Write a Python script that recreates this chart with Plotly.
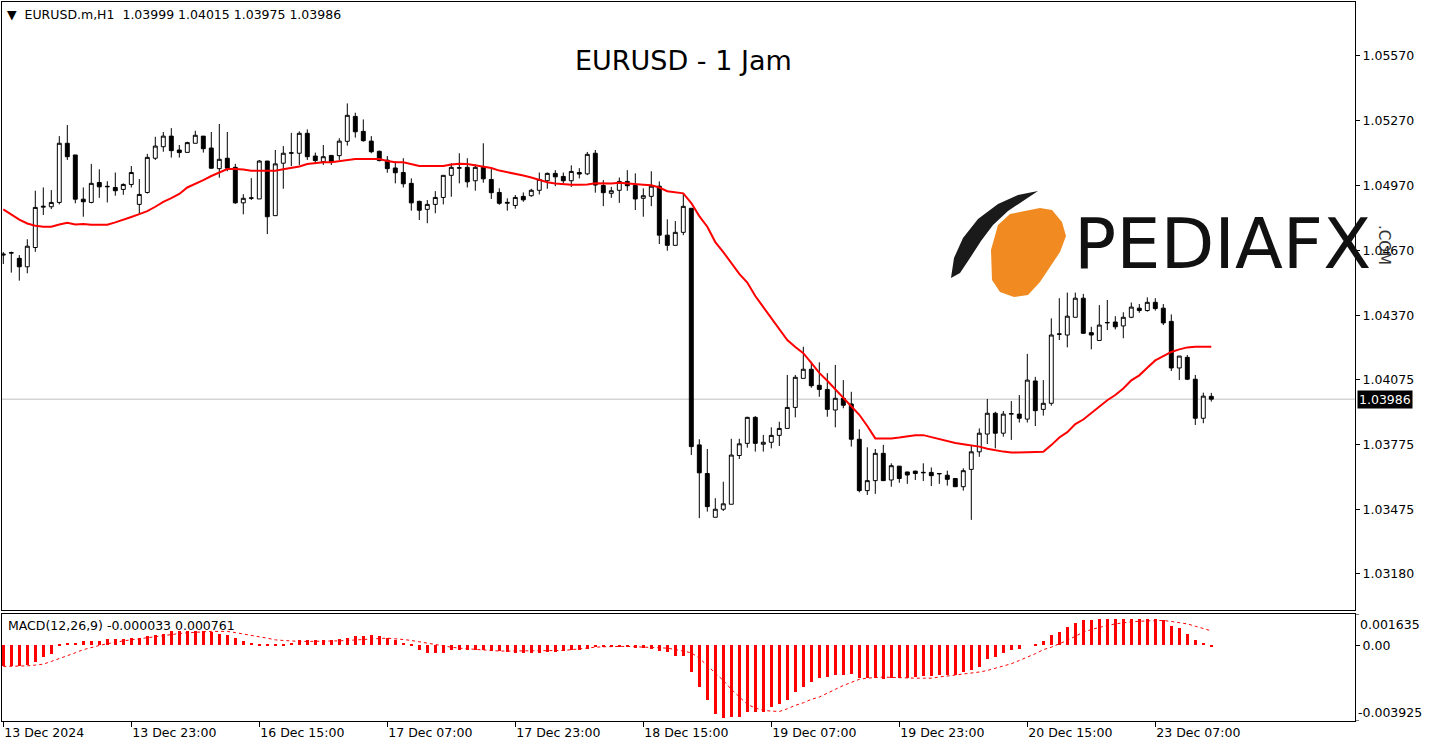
import plotly.graph_objects as go
import pandas as pd

# ---------------- data ----------------
opens = [1.04651,1.04660,1.04636,1.04597,1.04686,1.04872,1.04874,1.04894,1.05167,1.05113,
         1.04909,1.04894,1.04986,1.04966,1.04963,1.04954,1.04977,1.04885,1.04940,1.05098,
         1.05151,1.05200,1.05136,1.05125,1.05167,1.05200,1.05145,1.05050,1.05098,1.05056,
         1.04892,1.04913,1.04910,1.05085,1.04833,1.05075,1.05121,1.05121,1.05213,1.05108,
         1.05082,1.05111,1.05110,1.05176,1.05291,1.05222,1.05177,1.05130,1.05089,1.05053,
         1.05032,1.04982,1.04899,1.04862,1.04885,1.04917,1.05019,1.05052,1.05056,1.04994,
         1.05056,1.05000,1.04940,1.04890,1.04880,1.04922,1.04925,1.04950,1.04994,1.05028,
         1.05014,1.04994,1.05032,1.05026,1.05121,1.04972,1.04936,1.04950,1.04991,1.04972,
         1.04913,1.04922,1.04969,1.04743,1.04696,1.04756,1.04867,1.03775,1.03643,1.03441,
         1.03478,1.03501,1.03726,1.03782,1.03902,1.03778,1.03787,1.03819,1.03851,1.03948,
         1.04082,1.04124,1.04050,1.04031,1.03936,1.03990,1.03964,1.03801,1.03564,1.03610,
         1.03736,1.03613,1.03677,1.03650,1.03654,1.03646,1.03648,1.03641,1.03635,1.03620,
         1.03582,1.03662,1.03743,1.03825,1.03921,1.03829,1.03917,1.03917,1.03894,1.04070,
         1.03939,1.03967,1.04285,1.04282,1.04364,1.04452,1.04293,1.04257,1.04338,1.04342,
         1.04324,1.04364,1.04406,1.04395,1.04433,1.04406,1.04345,1.04130,1.04179,1.04078,
         1.03898,1.03999]
highs = [1.04665,1.04667,1.04651,1.04724,1.04948,1.04963,1.04951,1.05200,1.05251,1.05113,
         1.04963,1.05072,1.05047,1.04992,1.05032,1.04982,1.05062,1.05002,1.05118,1.05197,
         1.05219,1.05237,1.05159,1.05174,1.05225,1.05200,1.05219,1.05256,1.05219,1.05072,
         1.04932,1.05006,1.05090,1.05085,1.05136,1.05154,1.05215,1.05222,1.05231,1.05124,
         1.05159,1.05111,1.05190,1.05351,1.05308,1.05277,1.05200,1.05133,1.05108,1.05084,
         1.05098,1.05005,1.04902,1.04905,1.04946,1.05019,1.05075,1.05121,1.05098,1.05070,
         1.05167,1.05052,1.04959,1.04913,1.04928,1.04940,1.04957,1.05032,1.05032,1.05043,
         1.05032,1.05065,1.05052,1.05127,1.05136,1.04997,1.04966,1.05009,1.05043,1.05028,
         1.04959,1.05038,1.04991,1.04816,1.04808,1.04936,1.04867,1.03801,1.03756,1.03529,
         1.03605,1.03803,1.03803,1.03905,1.03908,1.03821,1.03856,1.03882,1.04098,1.04098,
         1.04228,1.04159,1.04156,1.04106,1.04144,1.04074,1.04020,1.03847,1.03764,1.03756,
         1.03775,1.03690,1.03677,1.03651,1.03656,1.03690,1.03671,1.03644,1.03656,1.03620,
         1.03667,1.03771,1.03851,1.03987,1.03928,1.03931,1.03977,1.04005,1.04195,1.04089,
         1.04074,1.04359,1.04452,1.04478,1.04478,1.04472,1.04320,1.04420,1.04444,1.04369,
         1.04387,1.04432,1.04425,1.04456,1.04452,1.04425,1.04377,1.04185,1.04190,1.04098,
         1.04016,1.04015]
lows = [1.04610,1.04570,1.04533,1.04567,1.04666,1.04836,1.04863,1.04885,1.05090,1.04890,
        1.04828,1.04890,1.04915,1.04894,1.04925,1.04929,1.04963,1.04836,1.04935,1.05090,
        1.05128,1.05101,1.05101,1.05124,1.05167,1.05124,1.05049,1.05008,1.05038,1.04888,
        1.04839,1.04905,1.04910,1.04748,1.04833,1.04957,1.05062,1.05067,1.05090,1.05075,
        1.05067,1.05067,1.05090,1.05156,1.05193,1.05174,1.05121,1.05084,1.05031,1.04982,
        1.04963,1.04856,1.04813,1.04798,1.04844,1.04885,1.04920,1.04982,1.04963,1.04948,
        1.04985,1.04910,1.04883,1.04856,1.04865,1.04897,1.04920,1.04931,1.04957,1.04969,
        1.04982,1.04966,1.05005,1.05020,1.04939,1.04877,1.04915,1.04892,1.04948,1.04859,
        1.04828,1.04877,1.04702,1.04671,1.04696,1.04743,1.03728,1.03437,1.03467,1.03441,
        1.03470,1.03501,1.03710,1.03762,1.03744,1.03744,1.03759,1.03770,1.03851,1.03902,
        1.04082,1.04039,1.03997,1.03905,1.03856,1.03944,1.03767,1.03556,1.03544,1.03549,
        1.03610,1.03582,1.03600,1.03595,1.03613,1.03608,1.03585,1.03595,1.03587,1.03582,
        1.03564,1.03429,1.03720,1.03779,1.03759,1.03813,1.03798,1.03878,1.03878,1.03862,
        1.03910,1.03956,1.04259,1.04225,1.04364,1.04287,1.04216,1.04257,1.04305,1.04308,
        1.04267,1.04360,1.04385,1.04390,1.04395,1.04328,1.04116,1.04074,1.04074,1.03867,
        1.03875,1.03975]
closes = [1.04655,1.04662,1.04597,1.04692,1.04871,1.04876,1.04894,1.05167,1.05105,1.04909,
          1.04897,1.04982,1.04966,1.04968,1.04948,1.04977,1.05032,1.04931,1.05102,1.05154,
          1.05200,1.05133,1.05124,1.05170,1.05204,1.05142,1.05052,1.05093,1.05052,1.04892,
          1.04913,1.04915,1.05085,1.04828,1.05072,1.05121,1.05123,1.05213,1.05105,1.05087,
          1.05105,1.05082,1.05177,1.05296,1.05220,1.05179,1.05128,1.05087,1.05050,1.05031,
          1.04980,1.04892,1.04858,1.04885,1.04917,1.05019,1.05056,1.05054,1.04989,1.05056,
          1.05003,1.04939,1.04890,1.04894,1.04917,1.04906,1.04950,1.05000,1.05028,1.05012,
          1.04994,1.05037,1.05025,1.05116,1.04974,1.04939,1.04948,1.04991,1.04971,1.04910,
          1.04925,1.04969,1.04743,1.04696,1.04756,1.04876,1.03767,1.03646,1.03490,1.03478,
          1.03503,1.03728,1.03780,1.03902,1.03782,1.03787,1.03819,1.03851,1.03948,1.04087,
          1.04124,1.04048,1.04031,1.03939,1.03990,1.03958,1.03801,1.03564,1.03610,1.03736,
          1.03610,1.03679,1.03620,1.03636,1.03643,1.03648,1.03633,1.03643,1.03616,1.03582,
          1.03656,1.03743,1.03829,1.03921,1.03829,1.03917,1.03919,1.03898,1.04074,1.03933,
          1.03967,1.04282,1.04287,1.04369,1.04452,1.04290,1.04282,1.04328,1.04340,1.04320,
          1.04364,1.04411,1.04395,1.04433,1.04404,1.04338,1.04130,1.04185,1.04078,1.03898,
          1.04000,1.03986]
ma_values = [1.04862,1.04838,1.04815,1.04797,1.04786,1.04782,1.04782,1.04792,1.04800,1.04792,
             1.04794,1.04791,1.04791,1.04791,1.04802,1.04813,1.04827,1.04840,1.04854,1.04874,
             1.04897,1.04914,1.04933,1.04963,1.04979,1.04997,1.05016,1.05032,1.05048,1.05048,
             1.05046,1.05040,1.05039,1.05039,1.05040,1.05047,1.05053,1.05060,1.05071,1.05076,
             1.05079,1.05080,1.05085,1.05092,1.05094,1.05094,1.05094,1.05094,1.05085,1.05080,
             1.05079,1.05071,1.05062,1.05062,1.05062,1.05062,1.05069,1.05072,1.05071,1.05065,
             1.05062,1.05053,1.05041,1.05034,1.05025,1.05018,1.05009,1.04997,1.04987,1.04981,
             1.04977,1.04976,1.04976,1.04977,1.04982,1.04980,1.04981,1.04985,1.04983,1.04978,
             1.04976,1.04973,1.04963,1.04946,1.04941,1.04936,1.04891,1.04831,1.04782,1.04711,
             1.04665,1.04614,1.04564,1.04524,1.04462,1.04411,1.04360,1.04310,1.04259,1.04227,
             1.04198,1.04153,1.04107,1.04071,1.04031,1.03990,1.03953,1.03914,1.03862,1.03805,
             1.03805,1.03805,1.03809,1.03816,1.03820,1.03820,1.03811,1.03802,1.03790,1.03784,
             1.03778,1.03774,1.03767,1.03757,1.03750,1.03744,1.03740,1.03739,1.03741,1.03742,
             1.03743,1.03774,1.03809,1.03834,1.03871,1.03892,1.03922,1.03948,1.03981,1.04005,
             1.04035,1.04073,1.04096,1.04131,1.04165,1.04185,1.04204,1.04216,1.04225,1.04228,
             1.04228,1.04228]
macd_hist = [-0.00109,-0.00109,-0.00109,-0.00104,-0.000865,-0.000606,-0.000433,0.00003,0.00012,0.00012,
             0.00024,0.00024,0.00024,0.00033,0.00033,0.00033,0.00040,0.00040,0.00047,0.00055,
             0.00062,0.00073,0.00073,0.00073,0.00073,0.00073,0.00069,0.00062,0.00055,0.00040,
             0.00024,0.00012,0.00007,0.00003,0.00003,0.00010,0.00012,0.00028,0.00028,0.00028,
             0.00028,0.00028,0.00033,0.00040,0.00047,0.00050,0.00052,0.00047,0.00040,0.00028,
             0.00012,0.00003,-0.00026,-0.00038,-0.00038,-0.00038,-0.00026,-0.00026,-0.00026,-0.00026,
             -0.00026,-0.00029,-0.00029,-0.00035,-0.00038,-0.00038,-0.00038,-0.00038,-0.00035,-0.00035,
             -0.00029,-0.00026,-0.00022,-0.00017,-0.00009,-0.00009,-0.00009,-0.00009,-0.00009,-0.00012,
             -0.00012,-0.00017,-0.00029,-0.00035,-0.00055,-0.00055,-0.00140,-0.00216,-0.00285,-0.00356,
             -0.00377,-0.00372,-0.00372,-0.00346,-0.00346,-0.00346,-0.00320,-0.00306,-0.00282,-0.00242,
             -0.00216,-0.00190,-0.00168,-0.00164,-0.00156,-0.00156,-0.00147,-0.00170,-0.00170,-0.00170,
             -0.00176,-0.00170,-0.00170,-0.00170,-0.00164,-0.00161,-0.00161,-0.00156,-0.00151,-0.00151,
             -0.00138,-0.00130,-0.00112,-0.00069,-0.00061,-0.00038,-0.00022,-0.00017,0.00000,0.00009,
             0.00021,0.00052,0.00069,0.00095,0.00118,0.00130,0.00130,0.00135,0.00135,0.00135,
             0.00135,0.00135,0.00135,0.00138,0.00135,0.00130,0.00100,0.00090,0.00061,0.00026,
             0.00014,-0.000033]
macd_signal = [-0.00109,-0.00109,-0.00109,-0.00106,-0.00102,-0.00097,-0.00083,-0.00069,-0.00054,-0.00038,
               -0.00022,-0.00009,0.00000,0.00009,0.00017,0.00024,0.00029,0.00035,0.00040,0.00047,
               0.00052,0.00057,0.00062,0.00066,0.00069,0.00073,0.00073,0.00073,0.00073,0.00067,
               0.00061,0.00052,0.00045,0.00038,0.00029,0.00026,0.00022,0.00021,0.00021,0.00021,
               0.00021,0.00022,0.00024,0.00026,0.00029,0.00033,0.00035,0.00036,0.00038,0.00036,
               0.00031,0.00026,0.00019,0.00010,0.00003,-0.00002,-0.00009,-0.00014,-0.00017,-0.00022,
               -0.00026,-0.00028,-0.00029,-0.00029,-0.00029,-0.00029,-0.00029,-0.00029,-0.00029,-0.00028,
               -0.00026,-0.00022,-0.00017,-0.00014,-0.00009,-0.00007,-0.00005,-0.00005,-0.00005,-0.00007,
               -0.00009,-0.00010,-0.00012,-0.00014,-0.00021,-0.00029,-0.00038,-0.00066,-0.00104,-0.00147,
               -0.00182,-0.00228,-0.00268,-0.00306,-0.00325,-0.00337,-0.00341,-0.00343,-0.00329,-0.00311,
               -0.00298,-0.00280,-0.00268,-0.00246,-0.00228,-0.00208,-0.00190,-0.00176,-0.00170,-0.00166,
               -0.00164,-0.00166,-0.00168,-0.00170,-0.00170,-0.00170,-0.00170,-0.00164,-0.00159,-0.00156,
               -0.00151,-0.00144,-0.00138,-0.00130,-0.00118,-0.00109,-0.00095,-0.00078,-0.00061,-0.00043,
               -0.00022,-0.00009,0.00009,0.00026,0.00048,0.00069,0.00083,0.00095,0.00104,0.00112,
               0.00118,0.00123,0.00126,0.00128,0.00130,0.00130,0.00125,0.00118,0.00112,0.00100,
               0.00090,0.000761]

price_ticks = [1.05570, 1.05270, 1.04970, 1.04670, 1.04370, 1.04075, 1.03775, 1.03475, 1.03180]
macd_max, macd_min = 0.001635, -0.003925
macd_tick_text = ["0.001635", "0.00", "-0.003925"]
last_price = 1.03986
header_text = "EURUSD.m,H1  1.03999 1.04015 1.03975 1.03986"
macd_text = "MACD(12,26,9) -0.000033 0.000761"
title_text = "EURUSD - 1 Jam"

# hourly bar times (weekend skipped)
times = list(pd.date_range("2024-12-13 07:00", "2024-12-13 23:00", freq="h")) + \
        list(pd.date_range("2024-12-16 00:00", "2024-12-20 23:00", freq="h")) + \
        list(pd.date_range("2024-12-23 00:00", "2024-12-23 14:00", freq="h"))
idx = list(range(len(closes)))
label_every = 16
tick_idx = idx[::label_every]
tick_text = [("13 Dec 2024" if k == 0 else times[k].strftime("%d Dec %H:%M").lstrip("0")) for k in tick_idx]

# ---------------- layout helpers (pixel -> paper) ----------------
W, H = 1429, 749
L, R, T, B = 2, 74, 2, 28
PW, PH = W - L - R, H - T - B
def px(x): return (x - L) / PW
def py(y): return (H - B - y) / PH

FONT = "DejaVu Sans"
FS = 12.5
fig = go.Figure()

fig.add_trace(go.Candlestick(
    x=idx, open=opens, high=highs, low=lows, close=closes,
    increasing=dict(line=dict(color="black", width=1), fillcolor="white"),
    decreasing=dict(line=dict(color="black", width=1), fillcolor="black"),
    whiskerwidth=0, xaxis="x", yaxis="y", showlegend=False, hoverinfo="skip"))
fig.add_trace(go.Scatter(x=idx, y=ma_values, mode="lines",
                         line=dict(color="#ff0000", width=2), xaxis="x", yaxis="y",
                         showlegend=False, hoverinfo="skip"))
fig.add_trace(go.Bar(x=idx, y=macd_hist, marker=dict(color="#ff0000", line=dict(width=0)),
                     width=0.42, xaxis="x2", yaxis="y2", showlegend=False, hoverinfo="skip"))
fig.add_trace(go.Scatter(x=idx, y=macd_signal, mode="lines",
                         line=dict(color="#ff0000", width=1, dash="dot"),
                         xaxis="x2", yaxis="y2", showlegend=False, hoverinfo="skip"))

xr = [(L - 3.3) / 8, (W - R - 3.3) / 8]
main_bot = py(610)
macd_top = py(614)

fig.update_layout(
    width=W, height=H, margin=dict(l=L, r=R, t=T, b=B, autoexpand=False),
    paper_bgcolor="white", plot_bgcolor="white",
    font=dict(family=FONT, size=FS, color="black"),
    bargap=0,
    xaxis=dict(domain=[0, 1], range=xr, anchor="y", showticklabels=False, showgrid=False,
               zeroline=False, showline=True, linecolor="black", linewidth=1, mirror=True,
               rangeslider=dict(visible=False), ticks=""),
    yaxis=dict(domain=[main_bot, 1], range=[1.03013, 1.05819], side="right",
               tickvals=price_ticks, ticktext=[f"{v:.5f}" for v in price_ticks],
               ticks="outside", ticklen=4, tickcolor="black", showgrid=False, zeroline=False,
               showline=True, linecolor="black", linewidth=1, mirror=True,
               tickfont=dict(family=FONT, size=FS, color="black")),
    xaxis2=dict(domain=[0, 1], range=xr, anchor="y2", tickvals=tick_idx, ticktext=tick_text,
                ticks="outside", ticklen=5, tickcolor="black", ticklabelposition="outside right",
                showgrid=False, zeroline=False, showline=True, linecolor="black", linewidth=1,
                mirror=True, tickfont=dict(family=FONT, size=FS, color="black")),
    yaxis2=dict(domain=[0, macd_top], range=[macd_min, macd_max], side="right",
                tickvals=[0.0], ticktext=[macd_tick_text[1]], ticks="outside", ticklen=4,
                tickcolor="black", showgrid=False, zeroline=False, showline=True,
                linecolor="black", linewidth=1, mirror=True,
                tickfont=dict(family=FONT, size=FS, color="black")),
)

shapes = []
shapes.append(dict(type="line", xref="x domain", yref="y", x0=0, x1=1, y0=last_price, y1=last_price,
                   line=dict(color="#c0c0c0", width=1), layer="below"))
def path(points):
    return "M " + " L ".join(f"{px(a):.5f},{py(b):.5f}" for a, b in points) + " Z"
swoosh = [(951, 278), (954, 258), (963, 238), (978, 219), (998, 204), (1018, 195), (1038, 191),
          (1026, 199), (1008, 211), (993, 225), (981, 241), (970, 258), (960, 273)]
shapes.append(dict(type="path", xref="paper", yref="paper", path=path(swoosh),
                   fillcolor="#1a1a1a", line=dict(width=0), layer="above"))
orange = [(998, 225), (1010, 214), (1040, 208), (1052, 210), (1062, 222), (1066, 236),
          (1060, 252), (1040, 282), (1028, 295), (1014, 297), (1000, 292), (992, 280),
          (991, 250)]
shapes.append(dict(type="path", xref="paper", yref="paper", path=path(orange),
                   fillcolor="#f18a21", line=dict(width=0), layer="above"))
# small tick marks for the MACD extreme labels
for yv in (macd_max, macd_min):
    shapes.append(dict(type="line", xref="paper", yref="y2", x0=1, x1=1.003, y0=yv, y1=yv,
                       line=dict(color="black", width=1)))
fig.update_layout(shapes=shapes)

ann = []
ann.append(dict(xref="paper", yref="paper", x=px(5), y=py(14), xanchor="left", yanchor="middle",
                text="▼  " + header_text, showarrow=False,
                font=dict(family=FONT, size=FS, color="black")))
ann.append(dict(xref="paper", yref="paper", x=px(683), y=py(60), xanchor="center", yanchor="middle",
                text=title_text, showarrow=False, font=dict(family=FONT, size=27, color="black")))
ann.append(dict(xref="paper", yref="paper", x=px(6), y=py(625), xanchor="left", yanchor="middle",
                text=macd_text, showarrow=False, font=dict(family=FONT, size=FS, color="black")))
ann.append(dict(xref="paper", yref="y2", x=1, y=macd_max, xanchor="left", yanchor="top",
                xshift=3, yshift=-1, text=macd_tick_text[0], showarrow=False,
                font=dict(family=FONT, size=FS, color="black")))
ann.append(dict(xref="paper", yref="y2", x=1, y=macd_min, xanchor="left", yanchor="bottom",
                xshift=1, yshift=-1, text=macd_tick_text[2], showarrow=False,
                font=dict(family=FONT, size=FS, color="black")))
ann.append(dict(xref="paper", yref="y", x=1, y=last_price, xanchor="left", yanchor="middle",
                xshift=2, text=f"{last_price:.5f}", showarrow=False, bgcolor="black",
                borderpad=1, font=dict(family=FONT, size=FS, color="white")))
ann.append(dict(xref="paper", yref="paper", x=px(1222), y=py(244), xanchor="center", yanchor="middle",
                text="PEDIAFX", showarrow=False, font=dict(family=FONT, size=70, color="#111111")))
ann.append(dict(xref="paper", yref="paper", x=px(1384), y=py(245), xanchor="center", yanchor="middle",
                text=".COM", textangle=90, showarrow=False, font=dict(family=FONT, size=15, color="#333333")))
fig.update_layout(annotations=ann)

fig.write_html("out.html", config={"displayModeBar": False},
               post_script="document.body.style.margin='0';document.body.style.overflow='hidden';")
